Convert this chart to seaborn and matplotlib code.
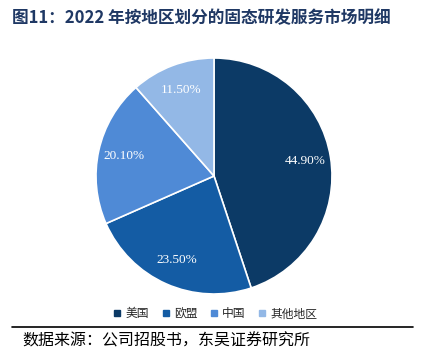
import matplotlib
matplotlib.use("Agg")
import matplotlib.pyplot as plt
import seaborn as sns
import numpy as np
from matplotlib.lines import Line2D

regions = ["美国", "欧盟", "中国", "其他地区"]
shares = [44.90, 23.50, 20.10, 11.50]
pct_labels = ["44.90%", "23.50%", "20.10%", "11.50%"]
colors = ["#0c3a66", "#145ca4", "#4f8ad6", "#93b8e6"]

sns.set_style("white")
plt.rcParams['font.family'] = ['Noto Sans CJK SC', 'DejaVu Sans']

fig = plt.figure(figsize=(4.32, 3.6), dpi=100)
R = 118
ax = fig.add_axes([(214 - 1.25 * R) / 432, (184 - 1.25 * R) / 360, 2.5 * R / 432, 2.5 * R / 360])
wedges, _ = ax.pie(shares, colors=colors, startangle=90, counterclock=False,
                   wedgeprops=dict(edgecolor="white", linewidth=1.2))
for w, lab in zip(wedges, pct_labels):
    ang = np.deg2rad((w.theta1 + w.theta2) / 2)
    ax.text(0.78 * np.cos(ang), 0.78 * np.sin(ang), lab, ha="center", va="center",
            color="white", fontsize=9.5, family="Liberation Serif")
ax.set_aspect("equal")

handles = [Line2D([0], [0], marker="s", linestyle="", markersize=4,
                  markerfacecolor=c, markeredgecolor=c) for c in colors]
fig.legend(handles, regions, loc="center", bbox_to_anchor=(215 / 432, 1 - 314 / 360),
           ncol=4, frameon=False, fontsize=8.5, handlelength=0.8, handletextpad=0.3,
           columnspacing=1.0)

fig.text(12 / 432, 1 - 18 / 360, "图11：2022 年按地区划分的固态研发服务市场明细",
         fontsize=12, fontweight="bold", color="#1f3864", ha="left", va="center")
fig.add_artist(Line2D([12 / 432, 413 / 432], [1 - 327 / 360, 1 - 327 / 360],
                      color="black", linewidth=1.2, transform=fig.transFigure))
fig.text(22 / 432, 1 - 341 / 360, "数据来源：公司招股书，东吴证券研究所",
         fontsize=11.5, color="black", ha="left", va="center")

fig.savefig("out.png", dpi=100)
